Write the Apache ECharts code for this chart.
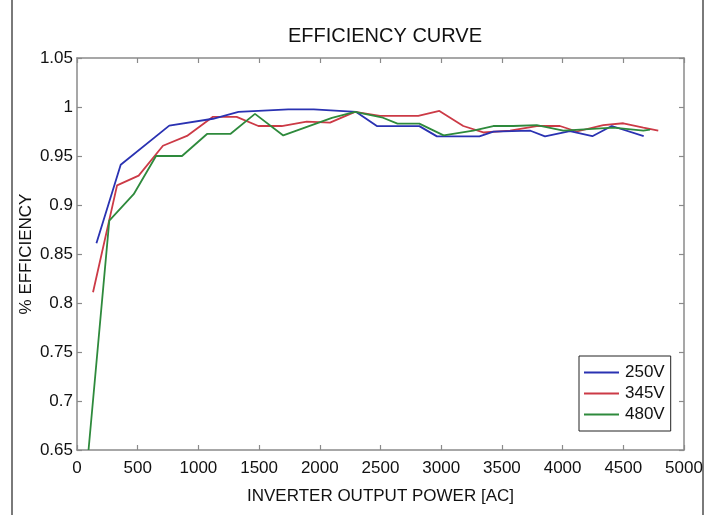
<!DOCTYPE html>
<html>
<head>
<meta charset="utf-8">
<script src="https://cdn.jsdelivr.net/npm/echarts@6/dist/echarts.min.js"></script>
<style>
html,body{margin:0;padding:0;background:#fff;}
#chart{width:708px;height:515px;}
</style>
</head>
<body>
<div id="chart"></div>
<script>
// Data: [power (W AC), efficiency]
var seriesNames = ['250V', '345V', '480V'];
var v250 = [[160,0.861],[360,0.941],[760,0.981],[1120,0.988],[1330,0.995],[1740,0.9975],[1950,0.9975],[2300,0.995],[2470,0.9805],[2820,0.9805],[2965,0.97],[3315,0.97],[3430,0.9748],[3735,0.9758],[3855,0.97],[4060,0.9755],[4245,0.9702],[4405,0.9806],[4668,0.9702]];
var v345 = [[132,0.811],[330,0.92],[508,0.93],[708,0.9605],[906,0.9705],[1120,0.99],[1315,0.99],[1494,0.9806],[1686,0.9806],[1892,0.985],[2084,0.984],[2290,0.995],[2496,0.991],[2811,0.991],[2985,0.996],[3182,0.9806],[3347,0.974],[3567,0.9758],[3787,0.9806],[3978,0.9806],[4116,0.975],[4335,0.9816],[4500,0.9834],[4665,0.979],[4788,0.9758]];
var v480 = [[95,0.65],[266,0.884],[467,0.911],[651,0.95],[865,0.95],[1071,0.9725],[1263,0.9725],[1466,0.993],[1699,0.971],[2100,0.989],[2290,0.995],[2510,0.9895],[2640,0.983],[2820,0.983],[3020,0.971],[3264,0.9758],[3429,0.9806],[3594,0.9806],[3787,0.9816],[4006,0.9758],[4281,0.978],[4418,0.979],[4665,0.9758],[4720,0.977]];
var colors = ['#2a32b2', '#cc3a46', '#2e8a3c'];
var titleText = 'EFFICIENCY CURVE';
var xName = 'INVERTER OUTPUT POWER [AC]';
var yName = '% EFFICIENCY';

var chart = echarts.init(document.getElementById('chart'), null, {renderer:'canvas'});
var font = 'Liberation Sans, Arial, sans-serif';
var axisGray = '#8a8a8a';
function baseAxis(extra){
  var a = {
    axisLine:{show:true, onZero:false, lineStyle:{color:axisGray, width:1.5}},
    axisTick:{show:true, inside:true, length:5, lineStyle:{color:axisGray, width:1.2}},
    splitLine:{show:false}
  };
  for (var k in extra) a[k] = extra[k];
  return a;
}
var option = {
  animation:false,
  backgroundColor:'#fff',
  color: colors,
  title:{text:titleText, left:380, top:21, textAlign:'center',
    textStyle:{fontFamily:font, fontSize:20, fontWeight:'normal', color:'#111'}},
  grid:{left:77, top:58, right:24, bottom:65, containLabel:false},
  xAxis:[
    baseAxis({type:'value', min:0, max:5000, interval:500, position:'bottom',
      name:xName, nameLocation:'middle', nameGap:38,
      nameTextStyle:{fontFamily:font, fontSize:17, color:'#111'},
      axisLabel:{show:true, margin:10, fontFamily:font, fontSize:17, color:'#111',
        formatter:function(v){return String(v);}}}),
    baseAxis({type:'value', min:0, max:5000, interval:500, position:'top',
      axisLabel:{show:false}})
  ],
  yAxis:[
    baseAxis({type:'value', min:0.65, max:1.05, interval:0.05, position:'left',
      name:yName, nameLocation:'middle', nameGap:42, nameRotate:90, nameMoveOverlap:false,
      nameTextStyle:{fontFamily:font, fontSize:17, color:'#111'},
      axisLabel:{show:true, margin:4, fontFamily:font, fontSize:17, color:'#111',
        formatter:function(v){return String(+v.toFixed(2));}}}),
    baseAxis({type:'value', min:0.65, max:1.05, interval:0.05, position:'right',
      axisLabel:{show:false}})
  ],
  legend:{
    data:seriesNames, orient:'vertical', left:579, top:356,
    icon:'rect', itemWidth:35, itemHeight:2,
    backgroundColor:'#fff', borderColor:'#222', borderWidth:1,
    padding:[8,6,8,5], itemGap:4,
    textStyle:{fontFamily:font, fontSize:17, color:'#111', padding:[0,0,0,1]}
  },
  series:[
    {name:seriesNames[0], type:'line', data:v250, symbol:'none', lineStyle:{width:1.8, color:colors[0]}, itemStyle:{color:colors[0]}, z:3},
    {name:seriesNames[1], type:'line', data:v345, symbol:'none', lineStyle:{width:1.8, color:colors[1]}, itemStyle:{color:colors[1]}, z:2},
    {name:seriesNames[2], type:'line', data:v480, symbol:'none', lineStyle:{width:1.8, color:colors[2]}, itemStyle:{color:colors[2]}, z:4}
  ],
  graphic:[
    {type:'rect', shape:{x:12, y:-3, width:691, height:522}, style:{fill:null, stroke:'#7a7a7a', lineWidth:2}, silent:true, z:-1}
  ]
};
chart.setOption(option);
</script>
</body>
</html>
